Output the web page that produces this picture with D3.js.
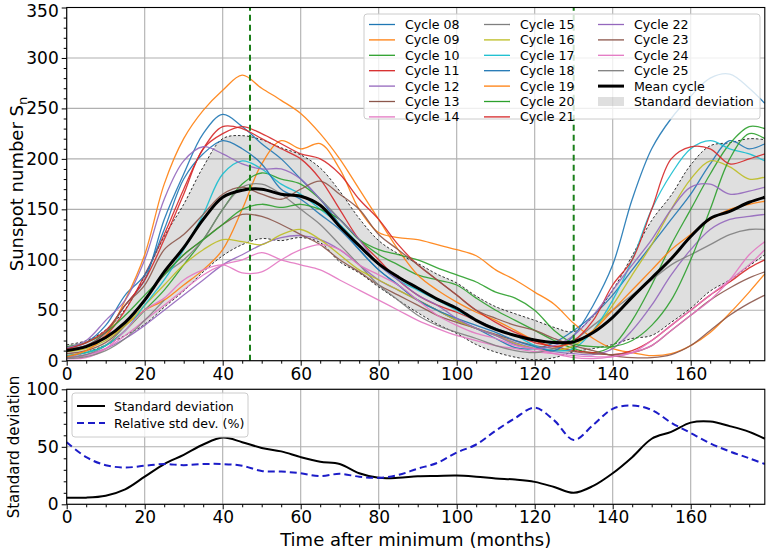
<!DOCTYPE html>
<html><head><meta charset="utf-8">
<script src="https://cdn.jsdelivr.net/npm/d3@7"></script>
<style>body{margin:0;background:#fff} text{font-family:"DejaVu Sans",sans-serif;fill:#000}</style>
</head><body><svg id="c" width="768" height="554"></svg>
<script>
// ---- data ----
const months = [0,5,10,15,20,25,30,35,40,45,50,55,60,65,70,75,80,85,90,95,100,105,110,115,120,125,130,135,140,145,150,155,160,165,170,175,179];
const cycleNames = ["Cycle 08","Cycle 09","Cycle 10","Cycle 11","Cycle 12","Cycle 13","Cycle 14","Cycle 15","Cycle 16","Cycle 17","Cycle 18","Cycle 19","Cycle 20","Cycle 21","Cycle 22","Cycle 23","Cycle 24","Cycle 25"];
const cycle08 = [12,15,28,55,80,140,185,225,244,232,215,200,180,160,135,110,90,75,60,50,40,32,22,13,12,18,30,45,65,90,115,140,165,195,218,210,215];
const cycle09 = [12,14,22,35,50,60,75,90,110,150,195,218,210,215,190,150,127,122,120,115,110,104,90,80,68,56,37,22,12,8,5,7,15,28,47,68,86];
const cycle10 = [5,8,15,30,50,70,95,120,150,175,186,180,175,160,140,120,105,95,85,80,75,62,50,40,30,20,12,8,15,40,75,115,150,185,215,232,230];
const cycle11 = [9,14,25,50,85,125,170,210,232,230,220,210,200,180,150,120,100,80,65,55,48,40,32,25,18,14,10,8,6,10,20,35,50,65,78,92,100];
const cycle12 = [4,6,12,22,35,50,65,80,95,105,115,122,124,120,110,95,80,70,60,50,40,32,25,18,12,9,7,6,12,30,55,85,110,130,140,143,145];
const cycle13 = [7,10,18,35,60,85,105,120,135,145,143,135,125,115,100,88,75,65,55,45,38,32,26,20,15,12,9,7,6,8,15,30,45,60,72,82,88];
const cycle14 = [3,5,12,25,40,55,70,85,95,100,107,100,95,90,80,70,60,50,40,32,25,20,15,12,9,7,5,4,4,8,20,35,50,65,80,95,110];
const cycle15 = [3,6,15,35,60,85,100,120,150,172,175,165,150,135,115,95,75,60,45,35,28,22,15,10,8,12,20,35,50,65,80,95,105,115,125,130,130];
const cycle16 = [9,12,20,35,55,75,95,110,120,118,115,125,130,120,105,90,80,70,60,50,40,32,25,17,12,10,15,30,55,85,115,150,180,198,192,180,182];
const cycle17 = [5,8,15,30,55,80,110,145,185,198,190,175,165,150,135,115,95,80,70,60,50,40,32,25,15,10,12,30,60,100,150,185,210,218,210,205,198];
const cycle18 = [12,18,35,65,85,130,180,205,218,210,195,170,160,145,130,110,90,75,60,50,42,35,28,20,14,10,25,55,95,160,210,240,262,280,284,270,255];
const cycle19 = [4,10,25,60,105,175,220,248,268,283,270,258,245,225,200,170,140,110,85,70,58,48,40,30,20,14,18,30,50,70,90,110,125,140,150,155,158];
const cycle20 = [14,18,28,45,65,85,105,120,135,150,155,152,155,150,140,120,110,105,100,92,85,78,68,62,50,30,17,14,14,20,35,60,100,150,200,225,220];
const cycle21 = [12,18,30,55,80,120,165,210,225,232,225,215,205,200,185,160,140,115,95,80,65,50,38,28,20,14,20,40,75,100,150,200,212,210,195,200,205];
const cycle22 = [13,20,40,60,100,160,198,212,205,195,190,190,180,160,140,120,95,80,65,55,42,32,25,16,12,15,25,45,70,95,120,150,172,175,165,168,172];
const cycle23 = [11,15,28,55,75,110,125,145,165,172,165,160,170,178,165,150,125,110,95,80,65,50,42,35,30,22,15,10,5,3,3,6,15,30,45,57,65];
const cycle24 = [2,3,12,30,50,62,80,90,95,87,88,100,110,115,110,95,85,75,60,45,35,27,22,15,12,7,3,2,4,8,15,30,45,60,80,105,118];
const cycle25 = [2,4,10,22,40,60];
const meanCycle = [10,14,23,38,60,88,112,140,162,169,170,165,163,154,133,114,96,83,72,61,52,40,31,25,20.5,18,18.8,28,43,63,82,101,123,141,148,157,162];
const stdDev = [5.8,5.8,7.5,13,24,35,43,52,58,54,49,46,41,37,35,27,23,23,24.4,24.7,25,24,22.5,21.5,19.5,15,10,16,27,41,57,63,71,72,68,63,57];
const relStd = [54,41,34,32,33.5,35,34,35,35,33.5,29,28.5,27,24.5,26.5,24,23,25.5,31,36,45,52,64,75,84,73,56,69,83,86,82,71,62,53,46,40,35];
const markers = [47,130];
const xTicks = [0,20,40,60,80,100,120,140,160];
const yTicksTop = [0,50,100,150,200,250,300,350];
const yTicksBot = [0,50,100];

const cycles = [cycle08,cycle09,cycle10,cycle11,cycle12,cycle13,cycle14,cycle15,cycle16,cycle17,cycle18,cycle19,cycle20,cycle21,cycle22,cycle23,cycle24,cycle25];
const palette = ["#1f77b4","#ff7f0e","#2ca02c","#d62728","#9467bd","#8c564b","#e377c2","#7f7f7f","#bcbd22","#17becf"];

// ---- layout ----
const svg = d3.select("#c");
const X0 = 66.7, X1 = 764.8;
const x = d3.scaleLinear().domain([0,179]).range([X0,X1]);
const yT = d3.scaleLinear().domain([0,350]).range([360.7,7.5]);
const yB = d3.scaleLinear().domain([0,100]).range([504.3,389.3]);
const FS = 17;

function panel(y, ticks) {
  const g = svg.append("g");
  g.selectAll(".vg").data(xTicks).join("line")
    .attr("x1",d=>x(d)).attr("x2",d=>x(d)).attr("y1",y.range()[0]).attr("y2",y.range()[1])
    .attr("stroke","#b0b0b0").attr("stroke-width",1.1);
  g.selectAll(".hg").data(ticks).join("line")
    .attr("x1",X0).attr("x2",X1).attr("y1",d=>y(d)).attr("y2",d=>y(d))
    .attr("stroke","#b0b0b0").attr("stroke-width",1.1);
  return g;
}
function axes(y, ticks, minorStep) {
  const y0 = y.range()[0];
  const minorX = d3.range(0,180,5).filter(v=>v%20!==0);
  const ax = svg.append("g").attr("transform",`translate(0,${y0})`);
  ax.call(d3.axisBottom(x).tickValues(xTicks).tickSize(5).tickPadding(2))
    .call(s=>s.select(".domain").remove())
    .call(s=>s.selectAll("text").attr("font-size",FS).attr("font-family","DejaVu Sans"));
  const axm = svg.append("g").attr("transform",`translate(0,${y0})`);
  axm.call(d3.axisBottom(x).tickValues(minorX).tickSize(3).tickFormat(""))
    .call(s=>s.select(".domain").remove());
  const ay = svg.append("g").attr("transform",`translate(${X0},0)`);
  ay.call(d3.axisLeft(y).tickValues(ticks).tickSize(5).tickPadding(3))
    .call(s=>s.select(".domain").remove())
    .call(s=>s.selectAll("text").attr("font-size",FS).attr("font-family","DejaVu Sans"));
  const dom = y.domain();
  const minorY = d3.range(dom[0],dom[1]+0.1,minorStep).filter(v=>!ticks.includes(v));
  const aym = svg.append("g").attr("transform",`translate(${X0},0)`);
  aym.call(d3.axisLeft(y).tickValues(minorY).tickSize(3).tickFormat(""))
    .call(s=>s.select(".domain").remove());
  svg.append("rect").attr("x",X0).attr("y",y.range()[1]).attr("width",X1-X0).attr("height",y.range()[0]-y.range()[1])
    .attr("fill","none").attr("stroke","#000").attr("stroke-width",1.1);
  return ay;
}

// ---- top panel ----
panel(yT, yTicksTop);
const band = months.map((m,i)=>({m, lo: meanCycle[i]-stdDev[i], hi: meanCycle[i]+stdDev[i]}));
const curve = d3.curveCatmullRom.alpha(0.5);
svg.append("path").datum(band)
  .attr("d", d3.area().x(d=>x(d.m)).y0(d=>yT(d.lo)).y1(d=>yT(d.hi)).curve(curve))
  .attr("fill","#808080").attr("fill-opacity",0.25);
["lo","hi"].forEach(k=>{
  svg.append("path").datum(band)
    .attr("d", d3.line().x(d=>x(d.m)).y(d=>yT(d[k])).curve(curve))
    .attr("fill","none").attr("stroke","#000").attr("stroke-width",0.8).attr("stroke-dasharray","2.5,2");
});
const lineT = d3.line().x(d=>x(d[0])).y(d=>yT(d[1])).curve(curve);
cycles.forEach((c,i)=>{
  const pts = c.map((v,j)=>[months[j],v]);
  svg.append("path").datum(pts).attr("d",lineT)
    .attr("fill","none").attr("stroke",palette[i%10]).attr("stroke-width",1.3).attr("stroke-opacity",0.9);
});
svg.append("path").datum(meanCycle.map((v,j)=>[months[j],v])).attr("d",lineT)
  .attr("fill","none").attr("stroke","#000").attr("stroke-width",3);
svg.selectAll(".mk").data(markers).join("line")
  .attr("x1",d=>x(d)).attr("x2",d=>x(d)).attr("y1",yT(0)).attr("y2",yT(350))
  .attr("stroke","#1a7f1a").attr("stroke-width",2).attr("stroke-dasharray","6,4");
const ayTop = axes(yT, yTicksTop, 10);
ayTop.selectAll("text").filter(d=>d===350).attr("dy","0.5em");

// legend top
const lg = svg.append("g");
lg.append("rect").attr("x",364).attr("y",14).attr("width",396).attr("height",105).attr("rx",3)
  .attr("fill","#fff").attr("fill-opacity",0.8).attr("stroke","#cccccc");
const colX = [369,484,598];
const entries = cycleNames.map((n,i)=>({name:n, color:palette[i%10], type:"line", w:1.3}));
entries.push({name:"Mean cycle", color:"#000", type:"line", w:3});
entries.push({name:"Standard deviation", color:"#808080", type:"patch"});
entries.forEach((e,i)=>{
  const col = Math.floor(i/7), row = i%7;
  const cx = colX[col], cy = 24.5 + row*15.4;
  if (e.type==="line") {
    lg.append("line").attr("x1",cx).attr("x2",cx+26).attr("y1",cy).attr("y2",cy)
      .attr("stroke",e.color).attr("stroke-width",e.w);
  } else {
    lg.append("rect").attr("x",cx).attr("y",cy-4.5).attr("width",26).attr("height",9)
      .attr("fill",e.color).attr("fill-opacity",0.25);
  }
  lg.append("text").attr("x",cx+36).attr("y",cy).attr("dy","0.36em").attr("font-size",12.6).text(e.name);
});

// y label top
const yl = svg.append("text").attr("transform","translate(23,184) rotate(-90)").attr("text-anchor","middle").attr("font-size",18);
yl.append("tspan").text("Sunspot number S");
yl.append("tspan").attr("font-size",13).attr("dy",4).text("n");

// ---- bottom panel ----
panel(yB, yTicksBot);
const lineB = d3.line().x(d=>x(d[0])).y(d=>yB(d[1])).curve(curve);
svg.append("path").datum(stdDev.map((v,j)=>[months[j],v])).attr("d",lineB)
  .attr("fill","none").attr("stroke","#000").attr("stroke-width",2);
svg.append("path").datum(relStd.map((v,j)=>[months[j],v])).attr("d",lineB)
  .attr("fill","none").attr("stroke","#1c1cc8").attr("stroke-width",2).attr("stroke-dasharray","7,4");
axes(yB, yTicksBot, 10);

const lb = svg.append("g");
lb.append("rect").attr("x",72).attr("y",393).attr("width",176).attr("height",44).attr("rx",3)
  .attr("fill","#fff").attr("fill-opacity",0.8).attr("stroke","#cccccc");
[["Standard deviation","#000",null],["Relative std dev. (%)","#1c1cc8","7,4"]].forEach((e,i)=>{
  const cy = 406 + i*17;
  const l = lb.append("line").attr("x1",77).attr("x2",105).attr("y1",cy).attr("y2",cy).attr("stroke",e[1]).attr("stroke-width",2);
  if (e[2]) l.attr("stroke-dasharray",e[2]);
  lb.append("text").attr("x",114).attr("y",cy).attr("dy","0.36em").attr("font-size",12.6).text(e[0]);
});
svg.append("text").attr("transform","translate(19,447) rotate(-90)").attr("text-anchor","middle").attr("font-size",15).text("Standard deviation");
svg.append("text").attr("x",415.7).attr("y",546).attr("text-anchor","middle").attr("font-size",18).text("Time after minimum (months)");
</script></body></html>
